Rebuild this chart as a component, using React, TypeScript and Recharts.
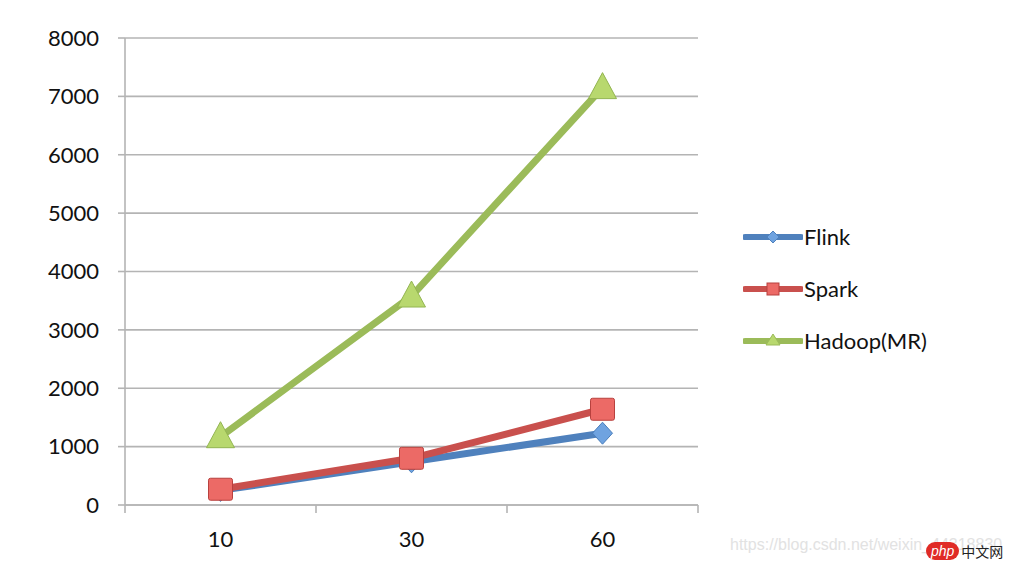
import React from 'react';
import { LineChart, Line, XAxis, YAxis, CartesianGrid } from 'recharts';

// x categories (input size) and measured times per engine
const sizes = ['10', '30', '60'];
const flinkTimes = [250, 740, 1230];
const sparkTimes = [270, 800, 1640];
const hadoopTimes = [1170, 3580, 7150];
const yTicks = [0, 1000, 2000, 3000, 4000, 5000, 6000, 7000, 8000];

const chartData = sizes.map((size, i) => ({
  size,
  flink: flinkTimes[i],
  spark: sparkTimes[i],
  hadoop: hadoopTimes[i]
}));

const FONT = 'Lato, "Open Sans", sans-serif';
const GRID = '#b4b4b4';
const TEXT = '#111';

const Diamond = ({ cx, cy }: any) => (
  <polygon
    points={`${cx},${cy - 11} ${cx + 10},${cy} ${cx},${cy + 11} ${cx - 10},${cy}`}
    fill="#6fa3e0"
    stroke="#4a7ebb"
    strokeWidth={1}
  />
);

const Square = ({ cx, cy }: any) => (
  <rect x={cx - 12} y={cy - 11} width={24} height={22} rx={2} fill="#ec6a66" stroke="#b8413e" strokeWidth={1} />
);

const Triangle = ({ cx, cy }: any) => (
  <polygon
    points={`${cx},${cy - 15} ${cx + 14},${cy + 11} ${cx - 14},${cy + 11}`}
    fill="#b8d86e"
    stroke="#93b552"
    strokeWidth={1}
  />
);

// category label centred in its band, tick marks on the band edges (Excel style)
const BandTick = ({ x, y, payload, index, visibleTicksCount }: any) => {
  const half = payload.offset || 0;
  const axisY = y - 26;
  return (
    <g>
      <line x1={x - half} y1={axisY} x2={x - half} y2={axisY + 8} stroke={GRID} strokeWidth={1.6} />
      {index === visibleTicksCount - 1 && (
        <line x1={x + half} y1={axisY} x2={x + half} y2={axisY + 8} stroke={GRID} strokeWidth={1.6} />
      )}
      <text x={x} y={y} dy="0.71em" textAnchor="middle" fill={TEXT} fontSize={22} fontFamily={FONT}>
        {payload.value}
      </text>
    </g>
  );
};

const legendItems = [
  { name: 'Flink', color: '#4f81bd', marker: 'diamond' },
  { name: 'Spark', color: '#c9504d', marker: 'square' },
  { name: 'Hadoop(MR)', color: '#9bbb59', marker: 'triangle' }
];

const LegendSwatch = ({ color, marker }: { color: string; marker: string }) => (
  <svg width={60} height={20} style={{ display: 'block' }}>
    <line x1={2} y1={10} x2={58} y2={10} stroke={color} strokeWidth={6} strokeLinecap="round" />
    {marker === 'diamond' && <polygon points="30,4 36,10 30,16 24,10" fill="#6fa3e0" stroke={color} />}
    {marker === 'square' && <rect x={24} y={4} width={12} height={12} fill="#ec6a66" stroke="#b8413e" />}
    {marker === 'triangle' && <polygon points="30,3 37,14 23,14" fill="#b8d86e" stroke={color} />}
  </svg>
);

export default function App() {
  return (
    <div style={{ position: 'absolute', left: 0, top: 0, width: 1010, height: 566, background: '#fff', fontFamily: FONT, overflow: 'hidden' }}>
      <LineChart width={1010} height={566} data={chartData} margin={{ top: 38, right: 312, left: 0, bottom: 0 }}>
        <CartesianGrid vertical={false} stroke={GRID} strokeWidth={1.6} />
        <XAxis
          dataKey="size"
          scale="band"
          tickLine={false}
          axisLine={{ stroke: GRID, strokeWidth: 1.6 }}
          tickSize={0}
          tickMargin={26}
          height={61}
          tick={<BandTick />}
        />
        <YAxis
          domain={[0, 8000]}
          ticks={yTicks}
          width={125}
          tickSize={7}
          tickMargin={19}
          tickLine={{ stroke: GRID, strokeWidth: 1.6 }}
          axisLine={{ stroke: GRID, strokeWidth: 1.6 }}
          tick={{ fill: TEXT, fontSize: 22, fontFamily: FONT }}
        />
        <Line dataKey="hadoop" stroke="#9bbb59" strokeWidth={7} dot={<Triangle />} isAnimationActive={false} />
        <Line dataKey="flink" stroke="#4f81bd" strokeWidth={7} dot={<Diamond />} isAnimationActive={false} />
        <Line dataKey="spark" stroke="#c9504d" strokeWidth={7} dot={<Square />} isAnimationActive={false} />
      </LineChart>

      <div style={{ position: 'absolute', left: 743, top: 211 }}>
        {legendItems.map(item => (
          <div key={item.name} style={{ display: 'flex', alignItems: 'center', height: 52 }}>
            <LegendSwatch color={item.color} marker={item.marker} />
            <span style={{ fontSize: 22, color: TEXT, marginLeft: 1, lineHeight: '24px' }}>{item.name}</span>
          </div>
        ))}
      </div>

      <div style={{ position: 'absolute', left: 730, top: 536, fontFamily: 'Arial, "Liberation Sans", sans-serif', fontSize: 16, color: '#e2e2e2', whiteSpace: 'nowrap' }}>
        https://blog.csdn.net/weixin_44318830
      </div>
      <div style={{ position: 'absolute', left: 926, top: 542, display: 'flex', alignItems: 'center', whiteSpace: 'nowrap' }}>
        <span style={{ background: '#e02b26', color: '#fff', borderRadius: 10, padding: '0 5px', fontFamily: 'Arial, sans-serif', fontSize: 14, lineHeight: '18px', fontStyle: 'italic' }}>php</span>
        <span style={{ color: '#222', fontFamily: '"Noto Sans CJK SC", sans-serif', fontSize: 14, marginLeft: 2, lineHeight: '18px' }}>中文网</span>
      </div>
    </div>
  );
}
